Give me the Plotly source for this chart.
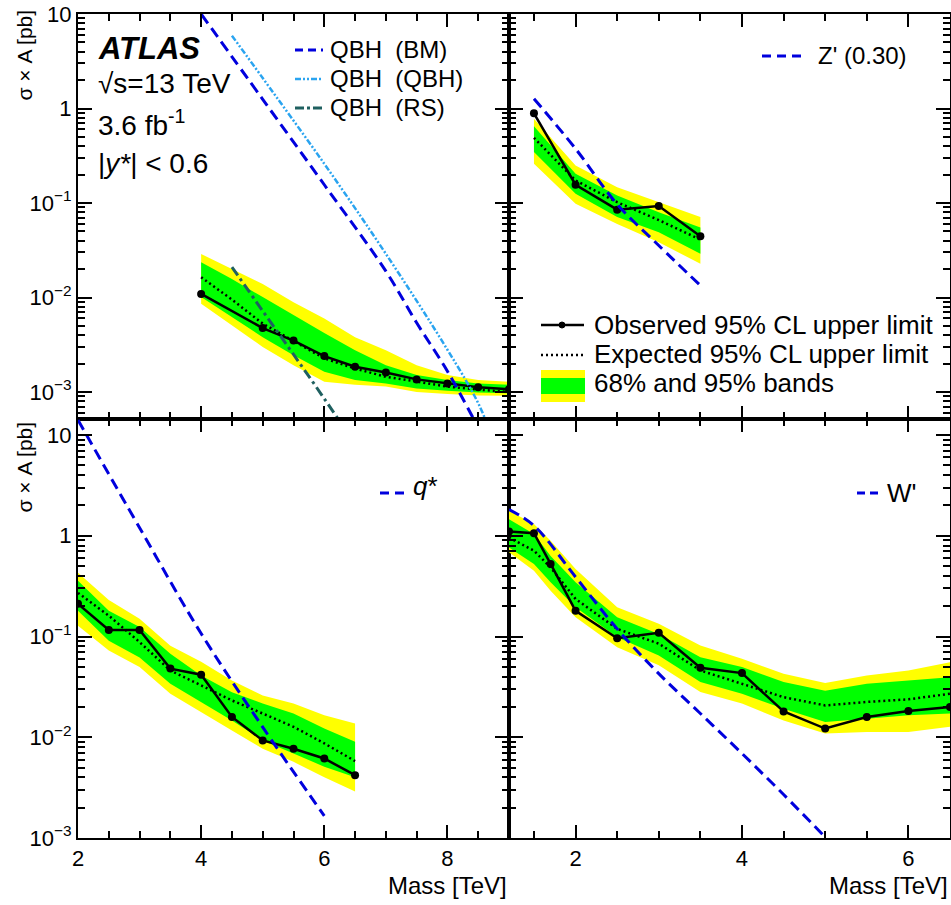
import plotly.graph_objects as go
import numpy as np

FONT = "Liberation Sans, Arial, Helvetica, sans-serif"
W, H = 951, 905

# ---------------- data ----------------
# QBH panel (top-left)
qbh_mass_obs = [4.0, 5.0, 5.5, 6.0, 6.5, 7.0, 7.5, 8.0, 8.5, 9.0]
qbh_obs = [0.0109, 0.00475, 0.0035, 0.0024, 0.00185, 0.00161, 0.00136, 0.00123, 0.00112, 0.00107]
qbh_mass_exp = [4.0, 4.5, 5.0, 5.5, 6.0, 6.5, 7.0, 7.5, 8.0, 8.5, 9.0]
qbh_exp = [0.0164, 0.0095, 0.0053, 0.0035, 0.00227, 0.00177, 0.00145, 0.00129, 0.00114, 0.00106, 0.00100]
qbh_2up = [0.0288, 0.020, 0.0139, 0.0089, 0.0060, 0.0038, 0.00277, 0.00192, 0.00151, 0.00134, 0.00128]
qbh_1up = [0.0236, 0.0157, 0.0101, 0.0065, 0.0042, 0.00277, 0.00192, 0.00151, 0.00134, 0.00123, 0.00119]
qbh_1dn = [0.0101, 0.0062, 0.0038, 0.00245, 0.00164, 0.00134, 0.00123, 0.00109, 0.00103, 0.00099, 0.00097]
qbh_2dn = [0.0086, 0.0051, 0.0030, 0.00192, 0.00128, 0.00119, 0.00114, 0.00100, 0.00095, 0.00092, 0.00091]
bm_mass = [4.0, 5.0, 6.0, 7.0, 7.5, 8.0, 8.5]
bm_xsec = [10.0, 1.25, 0.156, 0.019, 0.0054, 0.00166, 0.00042]
qbhm_mass = [4.5, 5.0, 6.0, 7.0, 8.0, 8.5, 8.8]
qbhm_xsec = [5.9, 2.1, 0.26, 0.029, 0.0028, 0.00076, 0.00025]
rs_mass = [4.5, 5.0, 5.5, 6.0, 6.5]
rs_xsec = [0.021, 0.0072, 0.0025, 0.00085, 0.00028]

# Z' panel (top-right)
zp_mass = [1.5, 2.0, 2.5, 3.0, 3.5]
zp_obs = [0.89, 0.156, 0.085, 0.093, 0.0446]
zp_exp = [0.49, 0.173, 0.102, 0.066, 0.041]
zp_2up = [0.78, 0.25, 0.147, 0.102, 0.071]
zp_1up = [0.65, 0.204, 0.12, 0.08, 0.055]
zp_1dn = [0.347, 0.125, 0.071, 0.049, 0.029]
zp_2dn = [0.26, 0.098, 0.06, 0.0385, 0.0227]
zp_theory = [1.27, 0.375, 0.097, 0.0355, 0.0134]

# q* panel (bottom-left)
qs_mass = [2.0, 2.5, 3.0, 3.5, 4.0, 4.5, 5.0, 5.5, 6.0, 6.5]
qs_obs = [0.211, 0.116, 0.116, 0.048, 0.0418, 0.0159, 0.0093, 0.0077, 0.00615, 0.0042]
qs_exp = [0.271, 0.161, 0.088, 0.046, 0.0327, 0.0232, 0.0172, 0.0127, 0.0087, 0.0058]
qs_2up = [0.43, 0.23, 0.15, 0.081, 0.056, 0.0366, 0.026, 0.0216, 0.0165, 0.0137]
qs_1up = [0.358, 0.18, 0.124, 0.0675, 0.041, 0.028, 0.0216, 0.0172, 0.0122, 0.009]
qs_1dn = [0.18, 0.091, 0.062, 0.034, 0.0224, 0.0147, 0.0093, 0.0069, 0.0051, 0.004]
qs_2dn = [0.128, 0.0727, 0.0497, 0.027, 0.0178, 0.0117, 0.0077, 0.0057, 0.004, 0.0029]
qs_theory_mass = [2.0, 3.0, 4.0, 5.0, 6.0]
qs_theory = [14.1, 1.2, 0.107, 0.0126, 0.00166]

# W' panel (bottom-right)
wp_mass = [1.2, 1.5, 1.7, 2.0, 2.5, 3.0, 3.5, 4.0, 4.5, 5.0, 5.5, 6.0, 6.5]
wp_obs = [1.1, 1.06, 0.525, 0.18, 0.096, 0.109, 0.049, 0.0433, 0.018, 0.0122, 0.0159, 0.0182, 0.020]
wp_exp = [0.96, 0.71, 0.485, 0.236, 0.119, 0.085, 0.046, 0.034, 0.025, 0.0207, 0.0224, 0.0238, 0.027]
wp_2up = [1.77, 1.31, 0.89, 0.468, 0.195, 0.134, 0.0815, 0.06, 0.0428, 0.0345, 0.041, 0.046, 0.0556]
wp_1up = [1.46, 1.04, 0.63, 0.345, 0.155, 0.106, 0.0624, 0.0497, 0.0353, 0.029, 0.034, 0.0366, 0.0395]
wp_1dn = [0.766, 0.525, 0.345, 0.195, 0.0984, 0.0648, 0.0353, 0.027, 0.0192, 0.0142, 0.0153, 0.0165, 0.0172]
wp_2dn = [0.684, 0.45, 0.285, 0.155, 0.078, 0.0517, 0.0281, 0.0216, 0.0147, 0.0109, 0.0113, 0.0113, 0.0127]
wp_theory_mass = [1.2, 1.5, 2.0, 2.5, 3.0, 3.5, 4.0, 4.5, 5.0]
wp_theory = [1.82, 1.26, 0.39, 0.119, 0.0428, 0.0172, 0.0069, 0.0027, 0.00102]

# ticks
x_ticks_left = [2, 4, 6, 8]
x_ticks_right = [2, 4, 6]
y_tick_vals = [0.001, 0.01, 0.1, 1, 10]
y_tick_text = ["10<sup>\u22123</sup>", "10<sup>\u22122</sup>", "10<sup>\u22121</sup>", "1", "10"]

# ---------------- styles ----------------
YELLOW = "#ffff00"
GREEN = "#00ff00"
BLUE = "#0000dd"
LBLUE = "#2aa4f0"
TEAL = "#1f6060"

fig = go.Figure()


def band(xa, ya, m, lo, hi, color):
    fig.add_trace(go.Scatter(x=list(m) + list(m)[::-1], y=list(hi) + list(lo)[::-1],
                             fill="toself", fillcolor=color, line=dict(width=0),
                             mode="lines", hoverinfo="skip", showlegend=False,
                             xaxis=xa, yaxis=ya))


def limits(xa, ya, m_obs, obs, m_exp, exp, up2, up1, dn1, dn2):
    band(xa, ya, m_exp, dn2, up2, YELLOW)
    band(xa, ya, m_exp, dn1, up1, GREEN)
    fig.add_trace(go.Scatter(x=m_exp, y=exp, mode="lines",
                             line=dict(color="black", width=2.5, dash="2px,3px"),
                             showlegend=False, xaxis=xa, yaxis=ya))
    fig.add_trace(go.Scatter(x=m_obs, y=obs, mode="lines+markers",
                             line=dict(color="black", width=2.5),
                             marker=dict(color="black", size=8),
                             showlegend=False, xaxis=xa, yaxis=ya))


def theory(xa, ya, m, s, color, dash, width=3):
    fig.add_trace(go.Scatter(x=m, y=s, mode="lines", line=dict(color=color, width=width, dash=dash),
                             line_shape="spline", showlegend=False, xaxis=xa, yaxis=ya))


limits("x", "y", qbh_mass_obs, qbh_obs, qbh_mass_exp, qbh_exp, qbh_2up, qbh_1up, qbh_1dn, qbh_2dn)
theory("x", "y", bm_mass, bm_xsec, BLUE, "11px,6px", 3)
theory("x", "y", qbhm_mass, qbhm_xsec, LBLUE, "6px,2px,2px,2px,2px,2px", 2.5)
theory("x", "y", rs_mass, rs_xsec, TEAL, "10px,4px,3px,4px", 3)

limits("x2", "y2", zp_mass, zp_obs, zp_mass, zp_exp, zp_2up, zp_1up, zp_1dn, zp_2dn)
theory("x2", "y2", zp_mass, zp_theory, BLUE, "11px,6px", 3)

limits("x3", "y3", qs_mass, qs_obs, qs_mass, qs_exp, qs_2up, qs_1up, qs_1dn, qs_2dn)
theory("x3", "y3", qs_theory_mass, qs_theory, BLUE, "11px,6px", 3)

limits("x4", "y4", wp_mass, wp_obs, wp_mass, wp_exp, wp_2up, wp_1up, wp_1dn, wp_2dn)
theory("x4", "y4", wp_theory_mass, wp_theory, BLUE, "11px,6px", 3)

# ---------------- axes ----------------
PX_L, PX_M, PX_R = 78, 509, 950
PY_T, PY_M, PY_B = 14, 419, 838


def fx(px):
    return px / W


def fy(py):
    return 1 - py / H


y_minor = [k * 10.0 ** e for e in range(-4, 2) for k in range(2, 10)]
axis_common = dict(showline=True, linecolor="black", linewidth=2, mirror="allticks",
                   ticks="inside", ticklen=13, tickwidth=1.5, tickcolor="black",
                   showgrid=False, zeroline=False,
                   tickfont=dict(family=FONT, size=22, color="black"))


def xaxis(domain, rng, anchor, major, show):
    minor_vals = [v for v in np.arange(0.5, 10.01, 0.5) if v not in major]
    d = dict(axis_common)
    d.update(domain=domain, range=rng, anchor=anchor, tickmode="array",
             tickvals=major, ticktext=[str(v) for v in major], showticklabels=show,
             minor=dict(ticks="inside", ticklen=7, tickwidth=1.5, tickcolor="black",
                        tickmode="array", tickvals=minor_vals, showgrid=False))
    return d


def yaxis(domain, rng, anchor, show):
    d = dict(axis_common)
    d.update(domain=domain, range=rng, anchor=anchor, type="log", tickmode="array",
             tickvals=y_tick_vals, ticktext=y_tick_text, showticklabels=show,
             ticklen=14,
             minor=dict(ticks="inside", ticklen=7, tickwidth=1.5, tickcolor="black",
                        tickmode="array", tickvals=y_minor, showgrid=False))
    return d


xl = [fx(PX_L), fx(PX_M)]
xr = [fx(PX_M), fx(PX_R)]
yt = [fy(PY_M), fy(PY_T)]
yb = [fy(PY_B), fy(PY_M)]
top_rng = [-3 - (PY_M - 392) / 94.5, 1.0]
bot_rng = [-3.0, 1 + 16 / 100.75]

fig.update_layout(
    width=W, height=H, margin=dict(l=0, r=0, t=0, b=0, autoexpand=False),
    paper_bgcolor="white", plot_bgcolor="white", showlegend=False,
    font=dict(family=FONT, color="black"),
    xaxis=xaxis(xl, [2, 9], "y", x_ticks_left, False),
    yaxis=yaxis(yt, top_rng, "x", True),
    xaxis2=xaxis(xr, [1.2, 6.5], "y2", x_ticks_right, False),
    yaxis2=yaxis(yt, top_rng, "x2", False),
    xaxis3=xaxis(xl, [2, 9], "y3", x_ticks_left, True),
    yaxis3=yaxis(yb, bot_rng, "x3", True),
    xaxis4=xaxis(xr, [1.2, 6.5], "y4", x_ticks_right, True),
    yaxis4=yaxis(yb, bot_rng, "x4", False),
)

# ---------------- text & legends ----------------
ann = []
shapes = []


def text(px, py, s, size, xanchor="left", yanchor="middle", angle=0):
    ann.append(dict(x=fx(px), y=fy(py), xref="paper", yref="paper", text=s, showarrow=False,
                    xanchor=xanchor, yanchor=yanchor, textangle=angle,
                    font=dict(family=FONT, size=size, color="black")))


def seg(x0, x1, py, color, width, dash):
    shapes.append(dict(type="line", xref="paper", yref="paper", x0=fx(x0), x1=fx(x1),
                       y0=fy(py), y1=fy(py), line=dict(color=color, width=width, dash=dash)))


def rect(x0, x1, y0, y1, color):
    shapes.append(dict(type="rect", xref="paper", yref="paper", x0=fx(x0), x1=fx(x1),
                       y0=fy(y1), y1=fy(y0), fillcolor=color, line=dict(width=0)))


# axis titles
text(24, 8, "\u03c3 \u00d7 A [pb]", 21, xanchor="center", yanchor="top", angle=-90)
text(24, 420, "\u03c3 \u00d7 A [pb]", 21, xanchor="center", yanchor="top", angle=-90)
text(PX_M, 885, "Mass [TeV]", 24, xanchor="right")
text(PX_R, 885, "Mass [TeV]", 24, xanchor="right")

# ATLAS label
text(96, 48, "<b><i>ATLAS</i></b>", 31)
text(96, 84, "\u221as=13 TeV", 28)
text(96, 123, "3.6 fb<sup>-1</sup>", 28)
text(96, 163, "|<i>y*</i>| < 0.6", 28)

# QBH legend
seg(295, 323, 50, BLUE, 3, "8px,5px")
seg(295, 323, 79, LBLUE, 2.5, "6px,2px,2px,2px,2px,2px")
seg(295, 323, 108, TEAL, 3, "9px,3px,3px,3px")
text(328, 50, "QBH  (BM)", 24)
text(328, 79, "QBH  (QBH)", 24)
text(328, 108, "QBH  (RS)", 24)

# Z' legend
seg(762, 802, 56, BLUE, 3, "9px,6px")
text(816, 56, "Z' (0.30)", 24)

# limit legend
seg(541, 584, 325, "black", 2.5, "solid")
shapes.append(dict(type="circle", xref="paper", yref="paper",
                   x0=fx(559), x1=fx(565), y0=fy(328), y1=fy(322),
                   fillcolor="black", line=dict(color="black", width=1)))
seg(541, 584, 355, "black", 2.5, "2px,3px")
rect(541, 585, 370, 402, YELLOW)
rect(541, 585, 378, 394, GREEN)
text(592, 325, "Observed 95% CL upper limit", 26)
text(592, 354, "Expected 95% CL upper limit", 26)
text(592, 383, "68% and 95% bands", 26)

# q* and W' legends
seg(380, 405, 493, BLUE, 3, "9px,6px")
text(411, 486, "<i>q</i>*", 26)
seg(857, 878, 493, BLUE, 3, "8px,5px")
text(885, 493, "W'", 26)

fig.update_layout(annotations=ann, shapes=shapes)

fig.write_html(
    "out.html",
    config={"displayModeBar": False},
    post_script="document.documentElement.style.margin='0';document.body.style.margin='0';"
                "document.body.style.overflow='hidden';document.documentElement.style.overflow='hidden';",
)
